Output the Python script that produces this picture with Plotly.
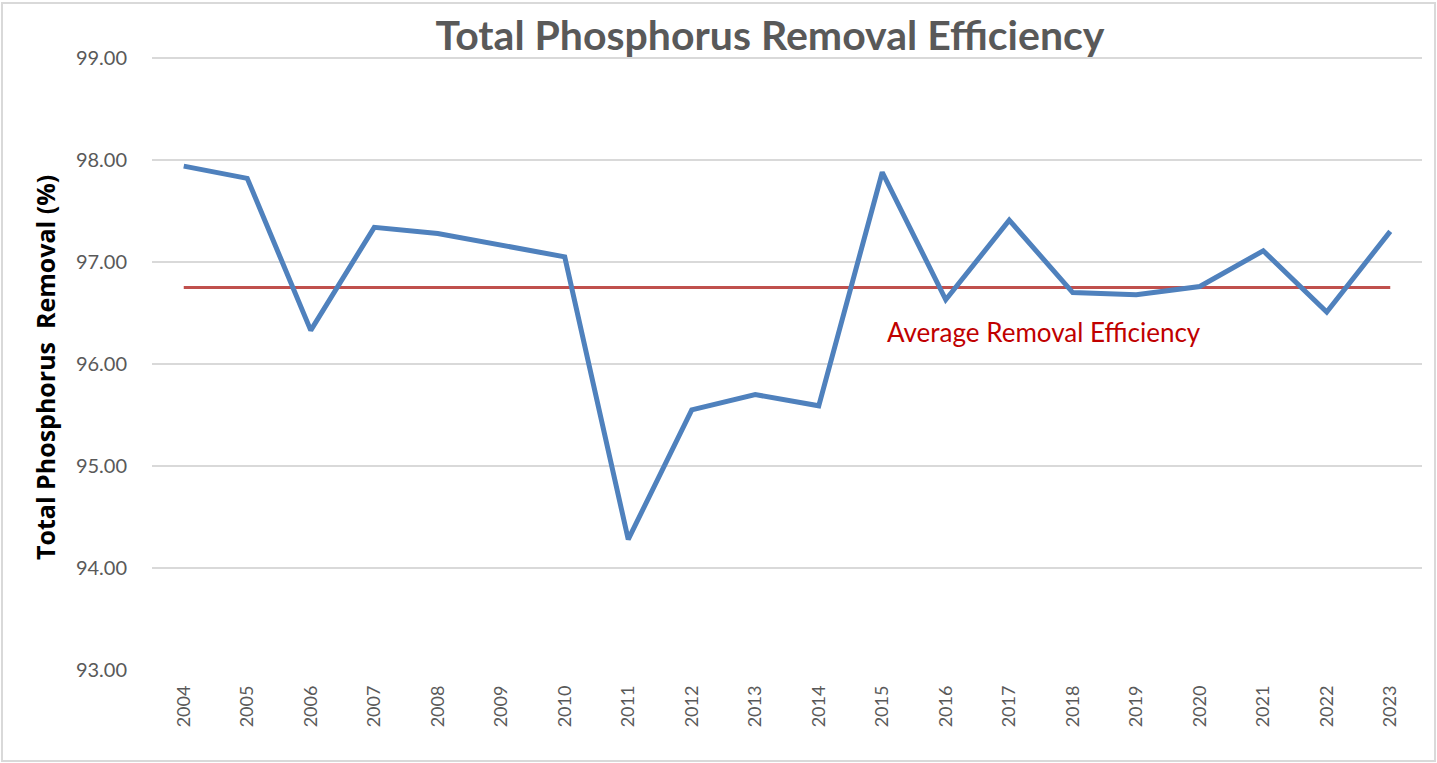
import plotly.graph_objects as go

years = [str(y) for y in range(2004, 2024)]
removal = [97.94, 97.82, 96.33, 97.34, 97.28, 97.16, 97.05, 94.28, 95.55, 95.70,
           95.59, 97.88, 96.63, 97.41, 96.70, 96.68, 96.76, 97.11, 96.51, 97.30]
average = round(sum(removal) / len(removal), 2)
avg_series = [average] * len(years)
y_ticks = [93, 94, 95, 96, 97, 98, 99]

FONT = "Lato"
W, H = 1437, 763
# plot area in screen pixels (top extended a few px so the 99 gridline is drawn)
SL, SR, ST, SB = 152, 1422, 53, 670
Y_TOP = 99 + 5 / 102.0
L, T = SL, ST
R = W - SR
B = H - SB
pw, ph = SR - SL, SB - ST

fig = go.Figure()
fig.add_trace(go.Scatter(x=years, y=avg_series, mode="lines",
                         line=dict(color="#C0504D", width=3), hoverinfo="skip"))
fig.add_trace(go.Scatter(x=years, y=removal, mode="lines",
                         line=dict(color="#4F81BD", width=5)))


def px_x(x):
    return (x - SL) / pw


def px_y(y):
    return (SB - y) / ph


fig.update_layout(
    width=W, height=H,
    margin=dict(l=L, r=R, t=T, b=B),
    paper_bgcolor="white", plot_bgcolor="white",
    showlegend=False,
    font=dict(family=FONT, color="#595959"),
    title=dict(text="<b>Total Phosphorus Removal Efficiency</b>",
               x=770 / W, xanchor="center", y=1 - 36 / H, yanchor="middle",
               font=dict(size=41, color="#595959", family=FONT)),
    xaxis=dict(type="category", range=[-0.5, len(years) - 0.5],
               tickangle=-90, tickfont=dict(size=18, color="#595959"),
               showgrid=False, showline=False, zeroline=False, ticks="",
               ticklabelstandoff=11),
    yaxis=dict(range=[93, Y_TOP], tickvals=y_ticks,
               ticktext=[f"{v:.2f}" for v in y_ticks],
               tickfont=dict(size=20, color="#595959"),
               showgrid=True, gridcolor="#D9D9D9", gridwidth=2,
               zeroline=False, showline=False, ticks="", ticklabelstandoff=24),
    shapes=[dict(type="rect", xref="paper", yref="paper",
                 x0=px_x(2), x1=px_x(1435), y0=px_y(761), y1=px_y(3),
                 line=dict(color="#D9D9D9", width=2), fillcolor="rgba(0,0,0,0)",
                 layer="below")],
    annotations=[
        dict(text="<b>Total Phosphorus  Removal (%)</b>", xref="paper", yref="paper",
             x=px_x(45), y=px_y(368), textangle=-90, showarrow=False,
             xanchor="center", yanchor="middle",
             font=dict(size=25, color="black", family="Open Sans")),
        dict(text="Average Removal Efficiency", xref="paper", yref="paper",
             x=px_x(1044), y=px_y(332), showarrow=False,
             xanchor="center", yanchor="middle",
             font=dict(size=26, color="#C00000", family=FONT)),
    ],
)

fig.write_html("out.html", config={"displayModeBar": False},
               post_script="document.body.style.margin='0px';document.body.style.overflow='hidden';")
